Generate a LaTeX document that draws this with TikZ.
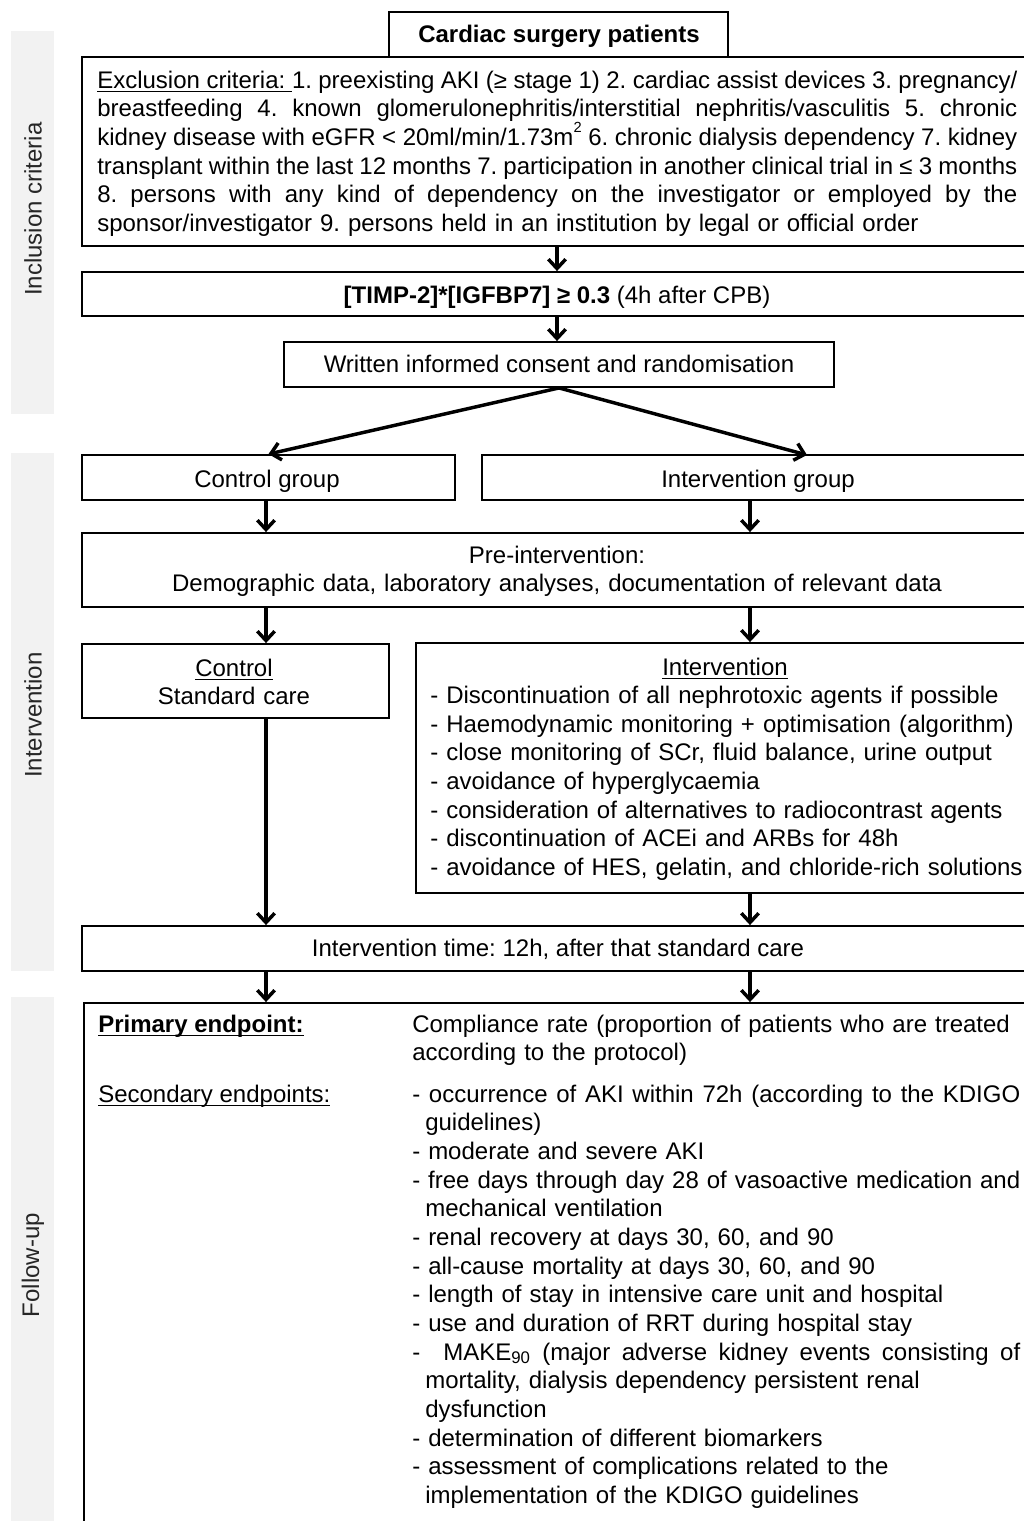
\documentclass[tikz,border=0pt]{standalone}
\usepackage{fontspec}
\setmainfont{Liberation Sans}
\usetikzlibrary{arrows.meta,fit}
\definecolor{bargray}{HTML}{F2F2F2}
\newsavebox{\myulbox}
\newcommand{\myul}[1]{\leavevmode\sbox{\myulbox}{#1}\rlap{\rule[-3pt]{\wd\myulbox}{0.9pt}}\usebox{\myulbox}}
\newcommand{\jline}[2]{\leavevmode\hbox to #1{\spaceskip=0.278em plus 0.6em minus 0.14em\relax #2}}
\newcommand{\smallsup}[1]{\raisebox{0.55em}{\fontsize{11}{11}\selectfont #1}}
\frenchspacing
\begin{document}
\begin{tikzpicture}[x=0.75pt,y=-0.75pt,
  box/.style={draw=black,line width=1.4pt,inner sep=0pt,rectangle},
  bar/.style={fill=bargray,draw=none,inner sep=0pt,rectangle},
  arr/.style={line width=2.6pt,-{Straight Barb[length=7pt,width=13pt]}},
  txt/.style={inner sep=0pt,font=\fontsize{18}{21.5}\selectfont\frenchspacing},
  side/.style={txt,rotate=90,text=black!85}]
\fill[white] (0,0) rectangle (1024,1521);
\clip (0,0) rectangle (1024,1521);

% side bars
\node[bar,fit={(11,31) (54,414)}] (barA) {};
\node[bar,fit={(11,453) (54,971)}] (barB) {};
\node[bar,fit={(11,997) (54,1540)}] (barC) {};
\node[side] (labA) at (33,209) {Inclusion criteria};
\node[side] (labB) at (33,715) {Intervention};
\node[side] (labC) at (33,1265) {Follow-up};

% boxes
\node[box,fit={(389,12) (728,57)}] (cardiac) {};
\node[box,fit={(82,57) (1040,246)}] (excl) {};
\node[box,fit={(82,272) (1040,316)}] (timp) {};
\node[box,fit={(284,342) (834,387)}] (consent) {};
\node[box,fit={(82,455) (455,500)}] (ctrlg) {};
\node[box,fit={(482,455) (1040,500)}] (intg) {};
\node[box,fit={(82,533) (1040,607)}] (pre) {};
\node[box,fit={(82,644) (389,718)}] (ctrl) {};
\node[box,fit={(416,643) (1040,893)}] (interv) {};
\node[box,fit={(82,926) (1040,971)}] (time) {};
\node[box,fit={(84,1003) (1040,1540)}] (fu) {};

% texts
\node[txt,anchor=base,font=\fontsize{18}{21.5}\selectfont\bfseries] (cardiact) at (559,42) {Cardiac surgery patients};
\node[txt,anchor=base west,text width=692.25pt] (exclt) at (97,88) {%
\jline{690pt}{\myul{Exclusion criteria: }1. preexisting AKI (≥ stage 1) 2. cardiac assist devices 3. pregnancy/}\\
\jline{690pt}{breastfeeding 4. known glomerulonephritis/interstitial nephritis/vasculitis 5. chronic}\\
\jline{690pt}{kidney disease with eGFR < 20ml/min/1.73m\smallsup{2} 6. chronic dialysis dependency 7. kidney}\\
\jline{690pt}{transplant within the last 12 months 7. participation in another clinical trial in ≤ 3 months}\\
\jline{690pt}{8. persons with any kind of dependency on the investigator or employed by the}\\
sponsor/investigator 9. persons held in an institution by legal or official order};
\node[txt,anchor=base] (timpt) at (557,303) {\textbf{[TIMP-2]*[IGFBP7] ≥ 0.3} (4h after CPB)};
\node[txt,anchor=base] (consentt) at (559,372) {Written informed consent and randomisation};
\node[txt,anchor=base] (ctrlgt) at (267,487) {Control group};
\node[txt,anchor=base] (intgt) at (758,487) {Intervention group};
\node[txt,anchor=base,text width=675pt,align=center] (pret) at (557,563) {Pre-intervention:\\Demographic data, laboratory analyses, documentation of relevant data};
\node[txt,anchor=base,text width=210pt,align=center] (ctrlt) at (234,676) {\myul{Control}\\Standard care};
\node[txt,anchor=base] (intvhead) at (725,675) {\myul{Intervention}};
\node[txt,anchor=base west,text width=450pt,align=left] (intvlist) at (430,703.5) {%
- Discontinuation of all nephrotoxic agents if possible\\
- Haemodynamic monitoring + optimisation (algorithm)\\
- close monitoring of SCr, fluid balance, urine output\\
- avoidance of hyperglycaemia\\
- consideration of alternatives to radiocontrast agents\\
- discontinuation of ACEi and ARBs for 48h\\
- avoidance of HES, gelatin, and chloride-rich solutions};
\node[txt,anchor=base] (timet) at (558,956) {Intervention time: 12h, after that standard care};
\node[txt,anchor=base west] (primt) at (98,1032) {\myul{\textbf{Primary endpoint:}}};
\node[txt,anchor=base west,text width=465pt,align=left] (primd) at (412,1032) {Compliance rate (proportion of patients who are treated\\according to the protocol)};
\node[txt,anchor=base west] (sect) at (98,1102) {\myul{Secondary endpoints:}};
\node[txt,anchor=base west,text width=457pt] (secd) at (412,1102) {%
\jline{456pt}{- occurrence of AKI within 72h (according to the KDIGO}\\
\hspace*{9.75pt}guidelines)\\
- moderate and severe AKI\\
\jline{456pt}{- free days through day 28 of vasoactive medication and}\\
\hspace*{9.75pt}mechanical ventilation\\
- renal recovery at days 30, 60, and 90\\
- all-cause mortality at days 30, 60, and 90\\
- length of stay in intensive care unit and hospital\\
- use and duration of RRT during hospital stay\\
\jline{456pt}{-\ \ MAKE\textsubscript{90} (major adverse kidney events consisting of}\\
\hspace*{9.75pt}mortality, dialysis dependency persistent renal\\
\hspace*{9.75pt}dysfunction\\
- determination of different biomarkers\\
- assessment of complications related to the\\
\hspace*{9.75pt}implementation of the KDIGO guidelines};

% connectors
\coordinate (colL) at (266,0);
\coordinate (colR) at (750,0);
\coordinate (colM) at (557,0);
\coordinate (intgin) at (807,455);
\draw[arr] (excl.south -| colM) -- (timp.north -| colM);
\draw[arr] (timp.south -| colM) -- (consent.north -| colM);
\draw[arr] (consent.south) -- (ctrlg.north);
\draw[arr] (consent.south) -- (intgin);
\draw[arr] (ctrlg.south -| colL) -- (pre.north -| colL);
\draw[arr] (intg.south -| colR) -- (pre.north -| colR);
\draw[arr] (pre.south -| colL) -- (ctrl.north -| colL);
\draw[arr] (pre.south -| colR) -- (interv.north -| colR);
\draw[arr] (ctrl.south -| colL) -- (time.north -| colL);
\draw[arr] (interv.south -| colR) -- (time.north -| colR);
\draw[arr] (time.south -| colL) -- (fu.north -| colL);
\draw[arr] (time.south -| colR) -- (fu.north -| colR);
\end{tikzpicture}
\end{document}
